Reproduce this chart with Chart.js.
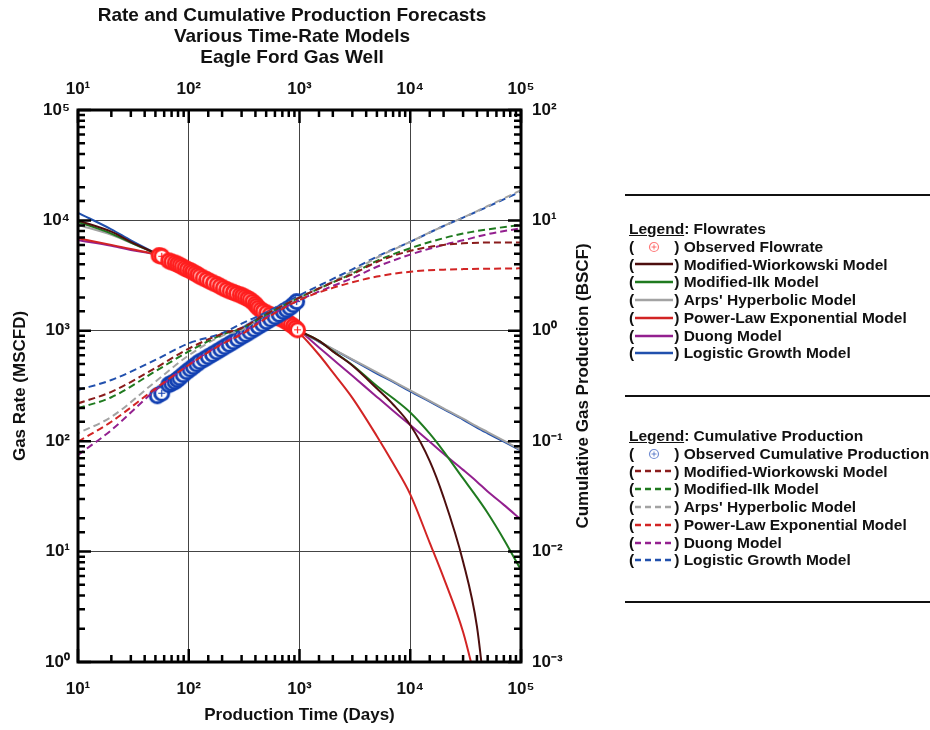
<!DOCTYPE html>
<html>
<head>
<meta charset="utf-8">
<script src="https://cdn.jsdelivr.net/npm/chart.js@4.4.0/dist/chart.umd.min.js"></script>
<style>
  body { margin: 0; background: #fff; }
  #wrap { position: relative; width: 930px; height: 730px; font-family: Arial, "Liberation Sans", sans-serif; }
  #chart { position: absolute; left: 0; top: 0; }
  .rule { position: absolute; left: 625px; width: 305px; height: 2px; background: #111; }
  .legend { position: absolute; left: 629px; font-weight: bold; font-size: 15.5px; color: #111; }
  .legend .row { display: flex; align-items: center; white-space: nowrap; height: 17.8px; }
  .legend svg { margin: 0 1px 0 1px; }
</style>
</head>
<body>
<div id="wrap">
  <canvas id="chart" width="930" height="730"></canvas>
  <div class="rule" style="top:194px"></div>
  <div class="legend" id="legendRate" style="top:220px"></div>
  <div class="rule" style="top:395px"></div>
  <div class="legend" id="legendCum" style="top:427px"></div>
  <div class="rule" style="top:601px"></div>
</div>
<script>
// ---- data ----
// observed flowrate (days, MSCFD)
const rateObsDays = [54, 57, 66, 70, 75, 79, 83, 87, 92, 97, 103, 108, 114, 120, 126, 135, 145, 155, 167, 180, 192, 205, 220, 236, 253, 270, 290, 305, 322, 340, 357, 377, 397, 410, 425, 447, 471, 505, 542, 580, 622, 668, 715, 752, 793, 835, 880, 920, 960];
const rateObs = [4800, 4730, 4300, 4200, 4110, 4010, 3920, 3810, 3700, 3600, 3510, 3410, 3320, 3220, 3120, 3010, 2910, 2810, 2710, 2620, 2530, 2440, 2360, 2290, 2230, 2170, 2120, 2070, 2020, 1960, 1910, 1830, 1750, 1680, 1610, 1550, 1500, 1450, 1400, 1360, 1325, 1290, 1260, 1220, 1180, 1140, 1100, 1060, 1020];

// observed cumulative production (days, BSCF)
const cumObsDays = [52, 57, 66, 70, 75, 79, 83, 89, 96, 103, 110, 118, 126, 138, 150, 164, 179, 195, 212, 232, 253, 276, 301, 328, 357, 390, 425, 465, 505, 550, 601, 655, 715, 765, 820, 880, 942];
const cumObs = [0.258, 0.272, 0.325, 0.335, 0.346, 0.361, 0.376, 0.40, 0.426, 0.45, 0.473, 0.50, 0.525, 0.553, 0.582, 0.613, 0.646, 0.68, 0.717, 0.755, 0.795, 0.84, 0.885, 0.93, 0.98, 1.035, 1.09, 1.15, 1.21, 1.275, 1.34, 1.41, 1.49, 1.55, 1.62, 1.72, 1.84];

// model rate forecasts (MSCFD)
const modelDays = [10, 20, 30, 57, 100, 200, 300, 500, 700, 1000, 1500, 2000, 3000, 5000, 7000, 10000, 15000, 20000, 30000, 40000, 50000, 70000, 100000];
const wiorkowskiRate = [10000, 7900, 6400, 4730, 3530, 2480, 2090, 1460, 1270, 1000, 810, 650, 485, 300, 215, 140, 66, 31, 8.1, 2.1, 0.3, null, null];
const ilkRate = [9700, 7600, 6300, 4730, 3530, 2480, 2090, 1460, 1270, 1000, 810, 655, 490, 316, 245, 182, 117, 81, 46, 31, 22.4, 12.9, 6.8];
const arpsRate = [9100, 7400, 6250, 4730, 3530, 2480, 2090, 1460, 1270, 1000, 803, 687, 552, 420, 350, 288, 232, 198, 160, 136, 121, 101, 83];
const pleRate = [6900, 6000, 5500, 4730, 3530, 2480, 2090, 1460, 1250, 950, 607, 420, 247, 111, 63, 33, 12, 5.8, 1.87, 0.6, null, null, null];
const duongRate = [6600, 5900, 5400, 4730, 3530, 2480, 2090, 1460, 1270, 1000, 707, 553, 391, 252, 189, 140, 99, 77, 55, 43, 35, 26.5, 19.5];
const logisticRate = [11700, 8300, 6600, 4730, 3530, 2480, 2090, 1460, 1270, 1000, 795, 680, 545, 410, 345, 282, 228, 195, 157, 133, 118, 99, 82];

// model cumulative forecasts (BSCF)
const cumDays = [10, 20, 50, 100, 200, 300, 500, 1000, 2000, 3000, 5000, 10000, 20000, 30000, 50000, 100000];
const wiorkowskiCum = [0.220, 0.28, 0.46, 0.69, 0.94, 1.06, 1.42, 2.0, 2.75, 3.25, 4.2, 5.3, 6.0, 6.2, 6.3, 6.3];
const ilkCum = [0.199, 0.25, 0.43, 0.65, 0.92, 1.05, 1.40, 2.0, 2.75, 3.3, 4.3, 5.6, 6.9, 7.6, 8.3, 9.1];
const arpsCum = [0.118, 0.166, 0.346, 0.60, 0.90, 1.02, 1.42, 2.0, 2.8, 3.45, 4.6, 6.4, 8.9, 10.6, 13.5, 18.8];
const pleCum = [0.099, 0.15, 0.30, 0.49, 0.76, 0.93, 1.30, 1.9, 2.45, 2.75, 3.1, 3.43, 3.58, 3.62, 3.65, 3.68];
const duongCum = [0.075, 0.126, 0.29, 0.49, 0.77, 0.95, 1.32, 1.9, 2.55, 3.0, 3.8, 4.9, 6.0, 6.6, 7.5, 8.5];
const logisticCum = [0.291, 0.358, 0.545, 0.77, 0.95, 1.16, 1.47, 2.1, 2.95, 3.6, 4.7, 6.4, 8.9, 10.6, 13.3, 18.3];

const modelNames = ["Modified-Wiorkowski Model", "Modified-Ilk Model", "Arps' Hyperbolic Model", "Power-Law Exponential Model", "Duong Model", "Logistic Growth Model"];
const rateSeries = [wiorkowskiRate, ilkRate, arpsRate, pleRate, duongRate, logisticRate];
const cumSeries = [wiorkowskiCum, ilkCum, arpsCum, pleCum, duongCum, logisticCum];
const rateColors = ["#4d0e0e", "#1f7a1f", "#a3a3a3", "#d22424", "#93208f", "#2150ad"];
const cumColors = ["#8a1c1c", "#1f7a1f", "#a3a3a3", "#d22424", "#93208f", "#2150ad"];
const obsRateColor = "#ff1e1e";
const obsCumColor = "#1240b2";

const FONT = 'Arial, "Liberation Sans", sans-serif';
Chart.defaults.font.family = FONT;
Chart.defaults.color = "#111";

// circle with a plus, like the plotted observations
const makeMarker = (color, r, lw) => {
  const size = Math.ceil(2 * r + lw + 2);
  const c = document.createElement("canvas");
  c.width = c.height = size;
  const g = c.getContext("2d");
  const m = size / 2;
  g.beginPath();
  g.arc(m, m, r, 0, 2 * Math.PI);
  g.fillStyle = "#fff";
  g.fill();
  g.lineWidth = lw;
  g.strokeStyle = color;
  g.stroke();
  g.lineWidth = 1.2;
  g.beginPath();
  g.moveTo(m - r * 0.5, m); g.lineTo(m + r * 0.5, m);
  g.moveTo(m, m - r * 0.5); g.lineTo(m, m + r * 0.5);
  g.stroke();
  return c;
};

const sup = { "0": "\u2070", "1": "\u00B9", "2": "\u00B2", "3": "\u00B3", "4": "\u2074", "5": "\u2075", "-": "\u207B" };
const isDecade = (v) => Math.abs(Math.log10(v) - Math.round(Math.log10(v))) < 1e-6;
const decadeLabel = (v) => {
  if (!isDecade(v)) return "";
  const e = String(Math.round(Math.log10(v)));
  return "10" + e.split("").map((ch) => sup[ch]).join("");
};

const toPoints = (xs, ys) => xs.map((x, i) => ({ x: x, y: ys[i] }));

let datasets = [];
cumSeries.forEach((vals, i) => {
  datasets.push({
    label: modelNames[i] + " (cumulative)",
    data: toPoints(cumDays, vals),
    yAxisID: "y2",
    borderColor: cumColors[i],
    borderWidth: 2,
    borderDash: [7, 4],
    borderDashOffset: i === 2 ? 5 : 0,
    pointRadius: 0,
    cubicInterpolationMode: "monotone",
    order: i === 5 ? 1 : 0,
  });
});
datasets.push({
  label: "Observed Cumulative Production",
  data: toPoints(cumObsDays, cumObs),
  yAxisID: "y2",
  showLine: false,
  pointStyle: makeMarker(obsCumColor, 7, 3),
  pointRadius: 8,
  order: 2,
});
datasets.push({
  label: "Observed Flowrate",
  data: toPoints(rateObsDays, rateObs),
  yAxisID: "y",
  showLine: false,
  pointStyle: makeMarker(obsRateColor, 7, 3),
  pointRadius: 8,
  order: 3,
});
rateSeries.forEach((vals, i) => {
  datasets.push({
    label: modelNames[i],
    data: toPoints(modelDays, vals),
    yAxisID: "y",
    borderColor: rateColors[i],
    borderWidth: 2,
    pointRadius: 0,
    cubicInterpolationMode: "monotone",
    order: i === 5 ? 5 : 4,
  });
});

// inward minor/major ticks, frame and right-hand axis title
const frameTicks = {
  id: "frameTicks",
  afterDatasetsDraw(chart) {
    const { ctx, chartArea: a, scales } = chart;
    ctx.save();
    ctx.strokeStyle = "#000";
    ctx.lineWidth = 2.5;
    ctx.beginPath();
    scales.x.ticks.forEach((t) => {
      const px = scales.x.getPixelForValue(t.value);
      const len = isDecade(t.value) ? 13 : 7;
      ctx.moveTo(px, a.bottom); ctx.lineTo(px, a.bottom - len);
      ctx.moveTo(px, a.top); ctx.lineTo(px, a.top + len);
    });
    scales.y.ticks.forEach((t) => {
      const py = scales.y.getPixelForValue(t.value);
      const len = isDecade(t.value) ? 13 : 7;
      ctx.moveTo(a.left, py); ctx.lineTo(a.left + len, py);
      ctx.moveTo(a.right, py); ctx.lineTo(a.right - len, py);
    });
    ctx.stroke();
    ctx.lineWidth = 3;
    ctx.strokeRect(a.left, a.top, a.right - a.left, a.bottom - a.top);

    ctx.translate(583, (a.top + a.bottom) / 2);
    ctx.rotate(-Math.PI / 2);
    ctx.font = "bold 17px " + FONT;
    ctx.fillStyle = "#111";
    ctx.textAlign = "center";
    ctx.textBaseline = "middle";
    ctx.fillText(chart.options.scales.y2.title.text, 0, 0);
    ctx.restore();
  },
};

const tickFont = { size: 17, weight: "bold" };
const gridDecades = {
  drawTicks: false,
  lineWidth: 1,
  color: (c) => (c.tick && isDecade(c.tick.value) ? "#444" : "rgba(0,0,0,0)"),
};

new Chart(document.getElementById("chart"), {
  type: "line",
  data: { datasets: datasets },
  options: {
    responsive: false,
    animation: false,
    layout: { padding: { left: 0, right: 346, top: 0, bottom: 0 } },
    plugins: {
      legend: { display: false },
      tooltip: { enabled: false },
      title: {
        display: true,
        text: ["Rate and Cumulative Production Forecasts", "Various Time-Rate Models", "Eagle Ford Gas Well"],
        font: { size: 19, weight: "bold", lineHeight: 1.12 },
        color: "#111",
        padding: { top: 5, bottom: 0 },
      },
    },
    scales: {
      x: {
        type: "logarithmic",
        position: "bottom",
        min: 10,
        max: 100000,
        grid: gridDecades,
        border: { display: false },
        ticks: { autoSkip: false, maxRotation: 0, padding: 17, font: tickFont, callback: decadeLabel },
        title: { display: true, text: "Production Time (Days)", font: { size: 17, weight: "bold" }, padding: { top: 0, bottom: 4 } },
        afterFit: (s) => { s.height = 68; },
      },
      x2: {
        type: "logarithmic",
        position: "top",
        min: 10,
        max: 100000,
        grid: { display: false },
        border: { display: false },
        ticks: { autoSkip: false, maxRotation: 0, padding: 2, font: tickFont, callback: decadeLabel },
        afterFit: (s) => { s.height = 110 - (5 + 3 * 19 * 1.12); },
      },
      y: {
        type: "logarithmic",
        position: "left",
        min: 1,
        max: 100000,
        grid: gridDecades,
        border: { display: false },
        ticks: { autoSkip: false, padding: 8, font: tickFont, callback: decadeLabel },
        title: { display: true, text: "Gas Rate (MSCFD)", font: { size: 17, weight: "bold" }, padding: { top: 10, bottom: 0 } },
        afterFit: (s) => { s.width = 78; },
      },
      y2: {
        type: "logarithmic",
        position: "right",
        min: 0.001,
        max: 100,
        grid: { display: false },
        border: { display: false },
        ticks: { autoSkip: false, padding: 3, font: tickFont, callback: decadeLabel },
        title: { display: false, text: "Cumulative Gas Production (BSCF)" },
        afterFit: (s) => { s.width = 930 - 346 - 521; },
      },
    },
  },
  plugins: [frameTicks],
});

// ---- legend panels ----
const lineSample = (color, dashed) =>
  '<svg width="38" height="10"><line x1="0" y1="5" x2="38" y2="5" stroke="' + color +
  '" stroke-width="2.5"' + (dashed ? ' stroke-dasharray="6 4"' : "") + "/></svg>";
const markerSample = (color) =>
  '<svg width="38" height="12"><circle cx="19" cy="6" r="4.5" fill="#fff" stroke="' + color +
  '" stroke-opacity="0.6" stroke-width="1.2"/><path d="M16.5 6h5M19 3.5v5" stroke="' + color +
  '" stroke-opacity="0.6" stroke-width="1"/></svg>';

const buildLegend = (el, heading, obsLabel, obsColor, colors, dashed) => {
  let html = '<div class="row"><span><u>Legend</u>: ' + heading + "</span></div>";
  html += '<div class="row">(' + markerSample(obsColor) + ")&nbsp;" + obsLabel + "</div>";
  modelNames.forEach((name, i) => {
    html += '<div class="row">(' + lineSample(colors[i], dashed) + ")&nbsp;" + name + "</div>";
  });
  el.innerHTML = html;
};
buildLegend(document.getElementById("legendRate"), "Flowrates", "Observed Flowrate", obsRateColor, rateColors, false);
buildLegend(document.getElementById("legendCum"), "Cumulative Production", "Observed Cumulative Production", obsCumColor, cumColors, true);
</script>
</body>
</html>
